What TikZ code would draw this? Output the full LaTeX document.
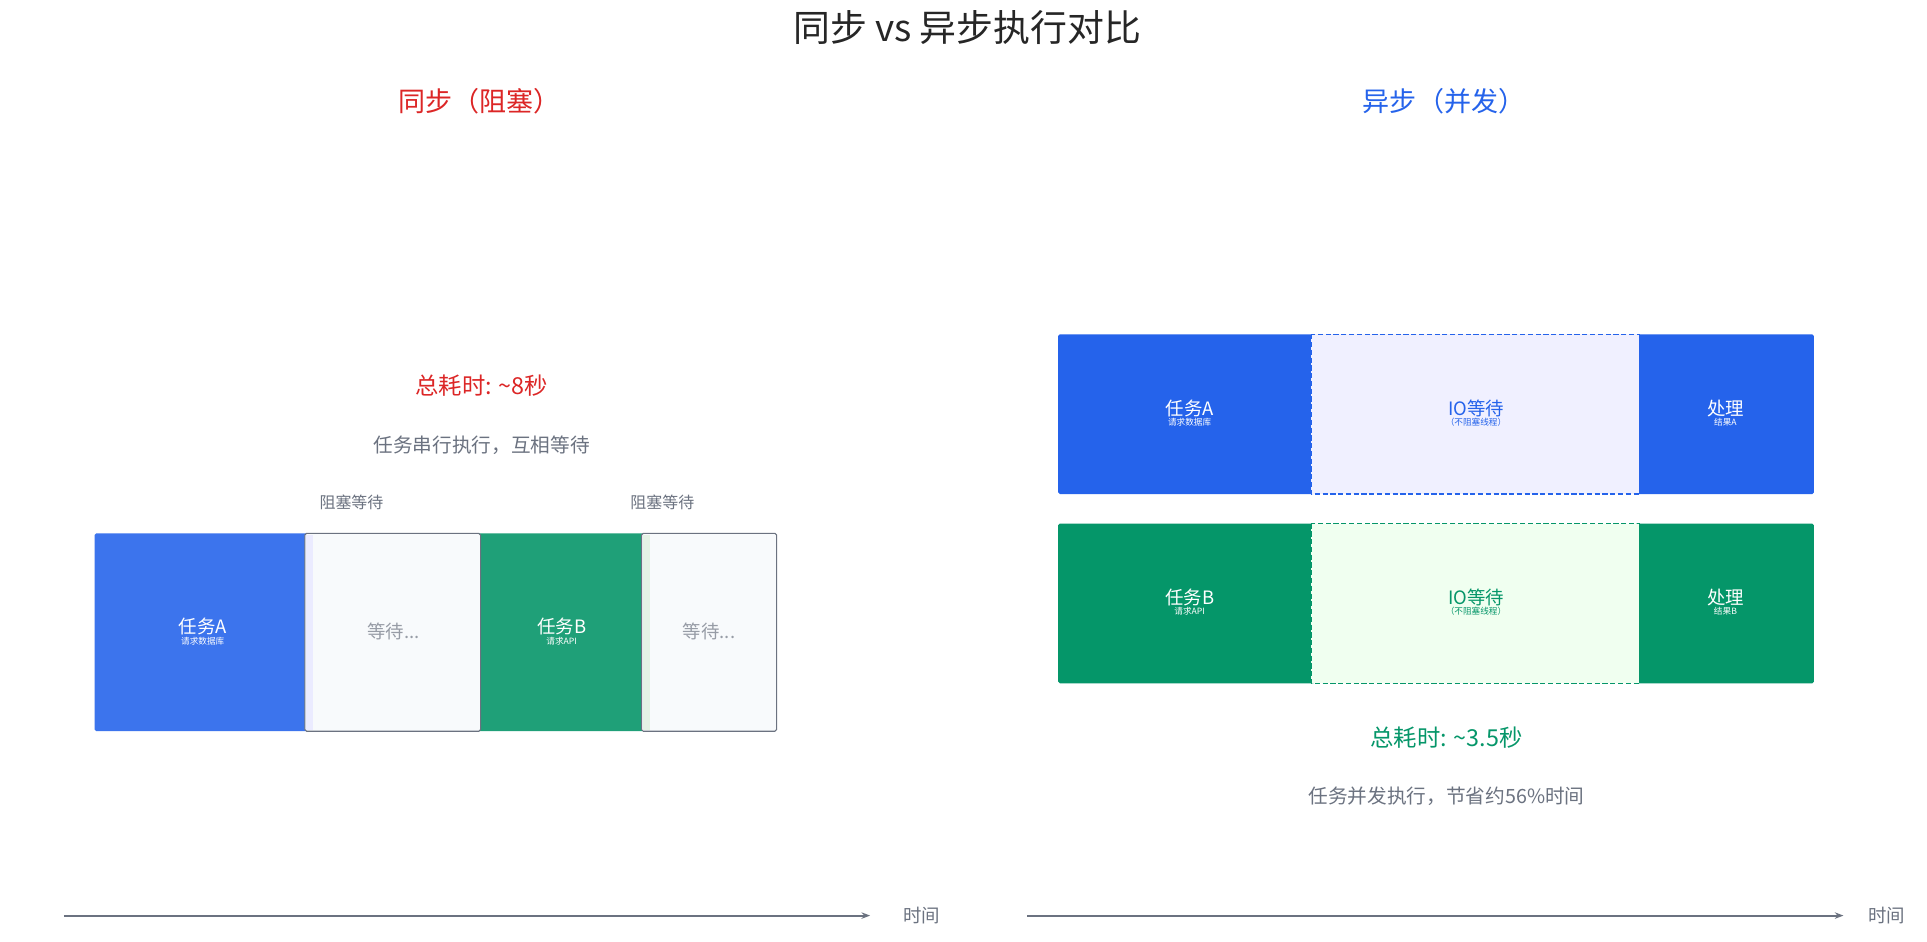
\documentclass[tikz,border=0pt]{standalone}
\usepackage{fontspec}
\setmainfont{Noto Sans CJK SC}
\usetikzlibrary{arrows.meta}
\newdimen\fsd
\newcommand{\fs}[1]{\fsd=1.4226pt \fsd=#1\fsd \fontsize{\the\fsd}{\the\dimexpr 12\fsd/10\relax}\selectfont}
\definecolor{gr}{HTML}{6B7280}
\definecolor{rd}{HTML}{DC2626}
\definecolor{bl}{HTML}{2563EB}
\definecolor{gn}{HTML}{059669}
\definecolor{lbl}{HTML}{3C74ED}
\definecolor{lgn}{HTML}{1FA078}
\definecolor{wt}{HTML}{F8FAFC}
\begin{document}
\begin{tikzpicture}[x=0.05cm,y=-0.05cm,
  txt/.style={inner sep=0,align=center},
  io/.style={line width=1.5pt,dash pattern=on 6pt off 3pt}]
\useasboundingbox (0,0) rectangle (1568,766.5);
\fill[white] (0,0) rectangle (1568,766.5);
\node[txt,text=black!85] (title) at (787,22) {\fs{30}同步 vs 异步执行对比};
\node[txt,text=rd] (lt) at (390,82) {\fs{22}同步（阻塞）};
\node[txt,text=bl] (rt) at (1175,82) {\fs{22}异步（并发）};
\node[txt,text=rd] (lsum) at (392,314) {\fs{19}总耗时: \textasciitilde8秒};
\node[txt,text=gr] (ldesc) at (392,362) {\fs{16}任务串行执行，互相等待};
\node[txt,text=gr] (b1) at (286,409) {\fs{13}阻塞等待};
\node[txt,text=gr] (b2) at (539,409) {\fs{13}阻塞等待};
% left boxes
\fill[lbl,rounded corners=2] (77,434) rectangle (252,595);
\node[txt,text=white] (ta) at (165,514) {\fs{15}任务A\\请求数据库};
\fill[lgn,rounded corners=2] (385,434) rectangle (527,595);
\draw[gn!80!black,line width=1pt] (386,434.5) -- (386,594.5);
\node[txt,text=white] (tb) at (457,514) {\fs{15}任务B\\请求API};
\filldraw[fill=wt,draw=gr,line width=1.2pt,rounded corners=2] (248,434) rectangle (391,595);
\fill[blue!8] (249,435) rectangle (255,594);
\node[txt,text=gr!70] (w1) at (320,514) {\fs{15}等待...};
\filldraw[fill=wt,draw=gr,line width=1.2pt,rounded corners=2] (522,434) rectangle (632,595);
\fill[green!50!black!10] (523,435) rectangle (529,594);
\node[txt,text=gr!70] (w2) at (577,514) {\fs{15}等待...};
% right row 1
\fill[bl,rounded corners=2] (861,272) rectangle (1070,402);
\fill[bl,rounded corners=2] (1330,272) rectangle (1476,402);
\filldraw[fill=blue!6,draw=bl,io] (1067,272) rectangle (1334,402);
\node[txt,text=white] (ra) at (968,336) {\fs{15}任务A\\请求数据库};
\node[txt,text=bl] (io1) at (1201,336) {\fs{15}IO等待\\（不阻塞线程）};
\node[txt,text=white] (pa) at (1404,336) {\fs{15}处理\\结果A};
% right row 2
\fill[gn,rounded corners=2] (861,426) rectangle (1070,556);
\fill[gn,rounded corners=2] (1330,426) rectangle (1476,556);
\filldraw[fill=green!6,draw=gn,io] (1067,426) rectangle (1334,556);
\node[txt,text=white] (rb) at (968,490) {\fs{15}任务B\\请求API};
\node[txt,text=gn] (io2) at (1201,490) {\fs{15}IO等待\\（不阻塞线程）};
\node[txt,text=white] (pb) at (1404,490) {\fs{15}处理\\结果B};
\node[txt,text=gn] (rsum) at (1177,600) {\fs{19}总耗时: \textasciitilde3.5秒};
\node[txt,text=gr] (rdesc) at (1177,648) {\fs{16}任务并发执行，节省约56\%时间};
% axes
\coordinate (a1) at (52,745); \coordinate (a2) at (708,745);
\coordinate (c1) at (836,745); \coordinate (c2) at (1500,745);
\draw[gr,line width=2.5pt,-{Stealth[length=10pt]}] (a1) -- (a2);
\draw[gr,line width=2.5pt,-{Stealth[length=10pt]}] (c1) -- (c2);
\node[txt,text=gr] (t1) at (750,745) {\fs{15}时间};
\node[txt,text=gr] (t2) at (1535,745) {\fs{15}时间};
\end{tikzpicture}
\end{document}
